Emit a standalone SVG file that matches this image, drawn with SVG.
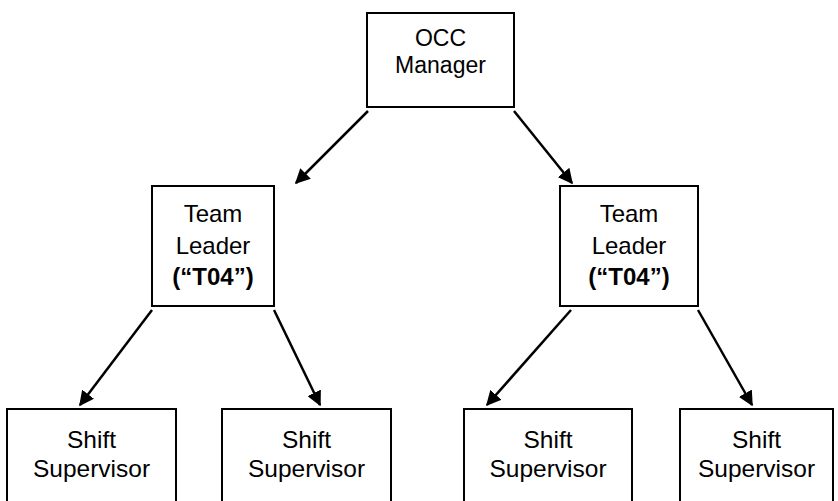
<svg xmlns="http://www.w3.org/2000/svg" width="838" height="501" viewBox="0 0 838 501">
  <style>
    .box { fill: #ffffff; stroke: #000000; stroke-width: 2; }
    .lbl { font-family: "Liberation Sans", Arial, sans-serif; fill: #000000; text-anchor: middle; }
    .top { font-size: 23px; }
    .mid { font-size: 24px; }
    .low { font-size: 24.5px; }
    .bold { font-weight: bold; }
    .edge { stroke: #000000; stroke-width: 2.5; fill: none; marker-end: url(#arrow); }
  </style>
  <defs>
    <marker id="arrow" viewBox="0 0 10 10" refX="9" refY="5" markerWidth="6" markerHeight="6" markerUnits="strokeWidth" orient="auto">
      <path d="M0,0 L10,5 L0,10 Z" fill="#000000"/>
    </marker>
  </defs>
  <rect width="838" height="501" fill="#ffffff"/>

  <g id="connectors">
    <line class="edge" x1="368" y1="111" x2="296" y2="183"/>
    <line class="edge" x1="514" y1="111" x2="572" y2="183"/>
    <line class="edge" x1="152" y1="310" x2="80" y2="405"/>
    <line class="edge" x1="274" y1="310" x2="320" y2="405"/>
    <line class="edge" x1="571" y1="310" x2="487" y2="405"/>
    <line class="edge" x1="698" y1="310" x2="752" y2="405"/>
  </g>

  <g id="occ-manager">
    <rect class="box" x="367" y="13" width="147" height="94"/>
    <text class="lbl top" x="440.5" y="46">OCC</text>
    <text class="lbl top" x="440.5" y="72.5">Manager</text>
  </g>

  <g id="team-leader-left">
    <rect class="box" x="152" y="186" width="122" height="120"/>
    <text class="lbl mid" x="213" y="222">Team</text>
    <text class="lbl mid" x="213" y="254">Leader</text>
    <text class="lbl mid bold" x="213" y="285">(“T04”)</text>
  </g>

  <g id="team-leader-right">
    <rect class="box" x="560" y="186" width="138" height="120"/>
    <text class="lbl mid" x="629" y="222">Team</text>
    <text class="lbl mid" x="629" y="254">Leader</text>
    <text class="lbl mid bold" x="629" y="285">(“T04”)</text>
  </g>

  <g id="shift-supervisor-1">
    <rect class="box" x="7" y="409" width="169" height="100"/>
    <text class="lbl low" x="91.5" y="448">Shift</text>
    <text class="lbl low" x="91.5" y="476.5">Supervisor</text>
  </g>

  <g id="shift-supervisor-2">
    <rect class="box" x="222" y="409" width="169" height="100"/>
    <text class="lbl low" x="306.5" y="448">Shift</text>
    <text class="lbl low" x="306.5" y="476.5">Supervisor</text>
  </g>

  <g id="shift-supervisor-3">
    <rect class="box" x="464" y="409" width="168" height="100"/>
    <text class="lbl low" x="548" y="448">Shift</text>
    <text class="lbl low" x="548" y="476.5">Supervisor</text>
  </g>

  <g id="shift-supervisor-4">
    <rect class="box" x="680" y="409" width="153" height="100"/>
    <text class="lbl low" x="756.5" y="448">Shift</text>
    <text class="lbl low" x="756.5" y="476.5">Supervisor</text>
  </g>
</svg>
